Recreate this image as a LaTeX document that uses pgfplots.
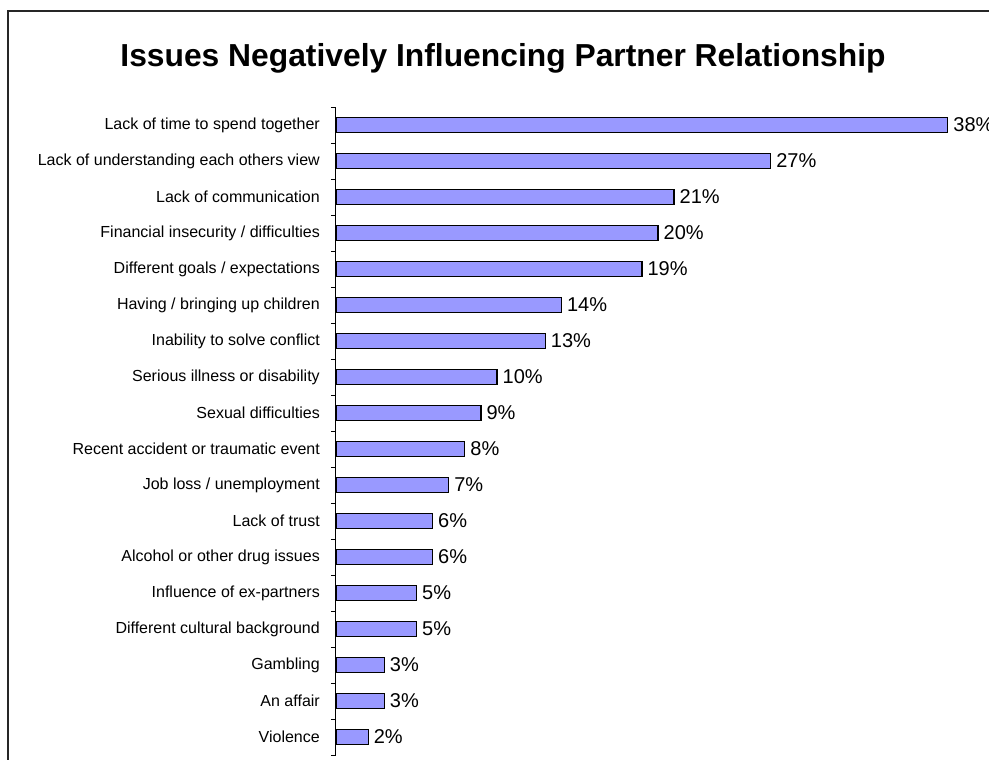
\documentclass[border=0pt]{standalone}
\usepackage{pgfplots}
\pgfplotsset{compat=1.18}
\usepackage{fontspec}
\setmainfont{Liberation Sans}
\definecolor{barblue}{HTML}{9999FF}
\begin{document}
\begin{tikzpicture}[x=1pt,y=1pt]
\begin{axis}[
  at={(0,0)}, anchor=south west,
  scale only axis, width=644pt, height=648pt,
  xbar, bar width=15pt,
  xmin=0, xmax=40,
  ymin=-0.5, ymax=17.5,
  y dir=reverse,
  axis x line=none,
  axis y line=left,
  axis line style={-, black, line width=1pt},
  ytick={0,...,17},
  minor ytick={-0.5,0.5,...,17.5},
  major tick length=0pt,
  minor tick length=5pt,
  tick align=outside,
  minor tick style={black, line width=1pt},
  /pgf/number format/assume math mode=true,
  yticklabels={Lack of time to spend together,Lack of understanding each others view,Lack of communication,Financial insecurity / difficulties,Different goals / expectations,Having / bringing up children,Inability to solve conflict,Serious illness or disability,Sexual difficulties,Recent accident or traumatic event,Job loss / unemployment,Lack of trust,Alcohol or other drug issues,Influence of ex-partners,Different cultural background,Gambling,An affair,Violence},
  yticklabel style={font=\fontsize{16}{19}\selectfont, inner sep=0pt, xshift=-16pt},
  nodes near coords={\pgfmathprintnumber{\pgfplotspointmeta}\%},
  nodes near coords style={font=\fontsize{20}{24}\selectfont, anchor=west, inner sep=0pt, xshift=5pt},
  clip=false,
]
\addplot[fill=barblue, draw=black, line width=1.3pt] table[x=v, y=i] {
i v
0 38
1 27
2 21
3 20
4 19
5 14
6 13
7 10
8 9
9 8
10 7
11 6
12 6
13 5
14 5
15 3
16 3
17 2
};
\end{axis}
\node[anchor=base, font=\bfseries\fontsize{31.8}{38}\selectfont] at (167,688) {Issues Negatively Influencing Partner Relationship};
\draw[line width=1.2pt, black!85] (-328,-50) rectangle (800,744);
\pgfresetboundingbox
\useasboundingbox (-336,-5) rectangle (653,755);
\end{tikzpicture}
\end{document}
